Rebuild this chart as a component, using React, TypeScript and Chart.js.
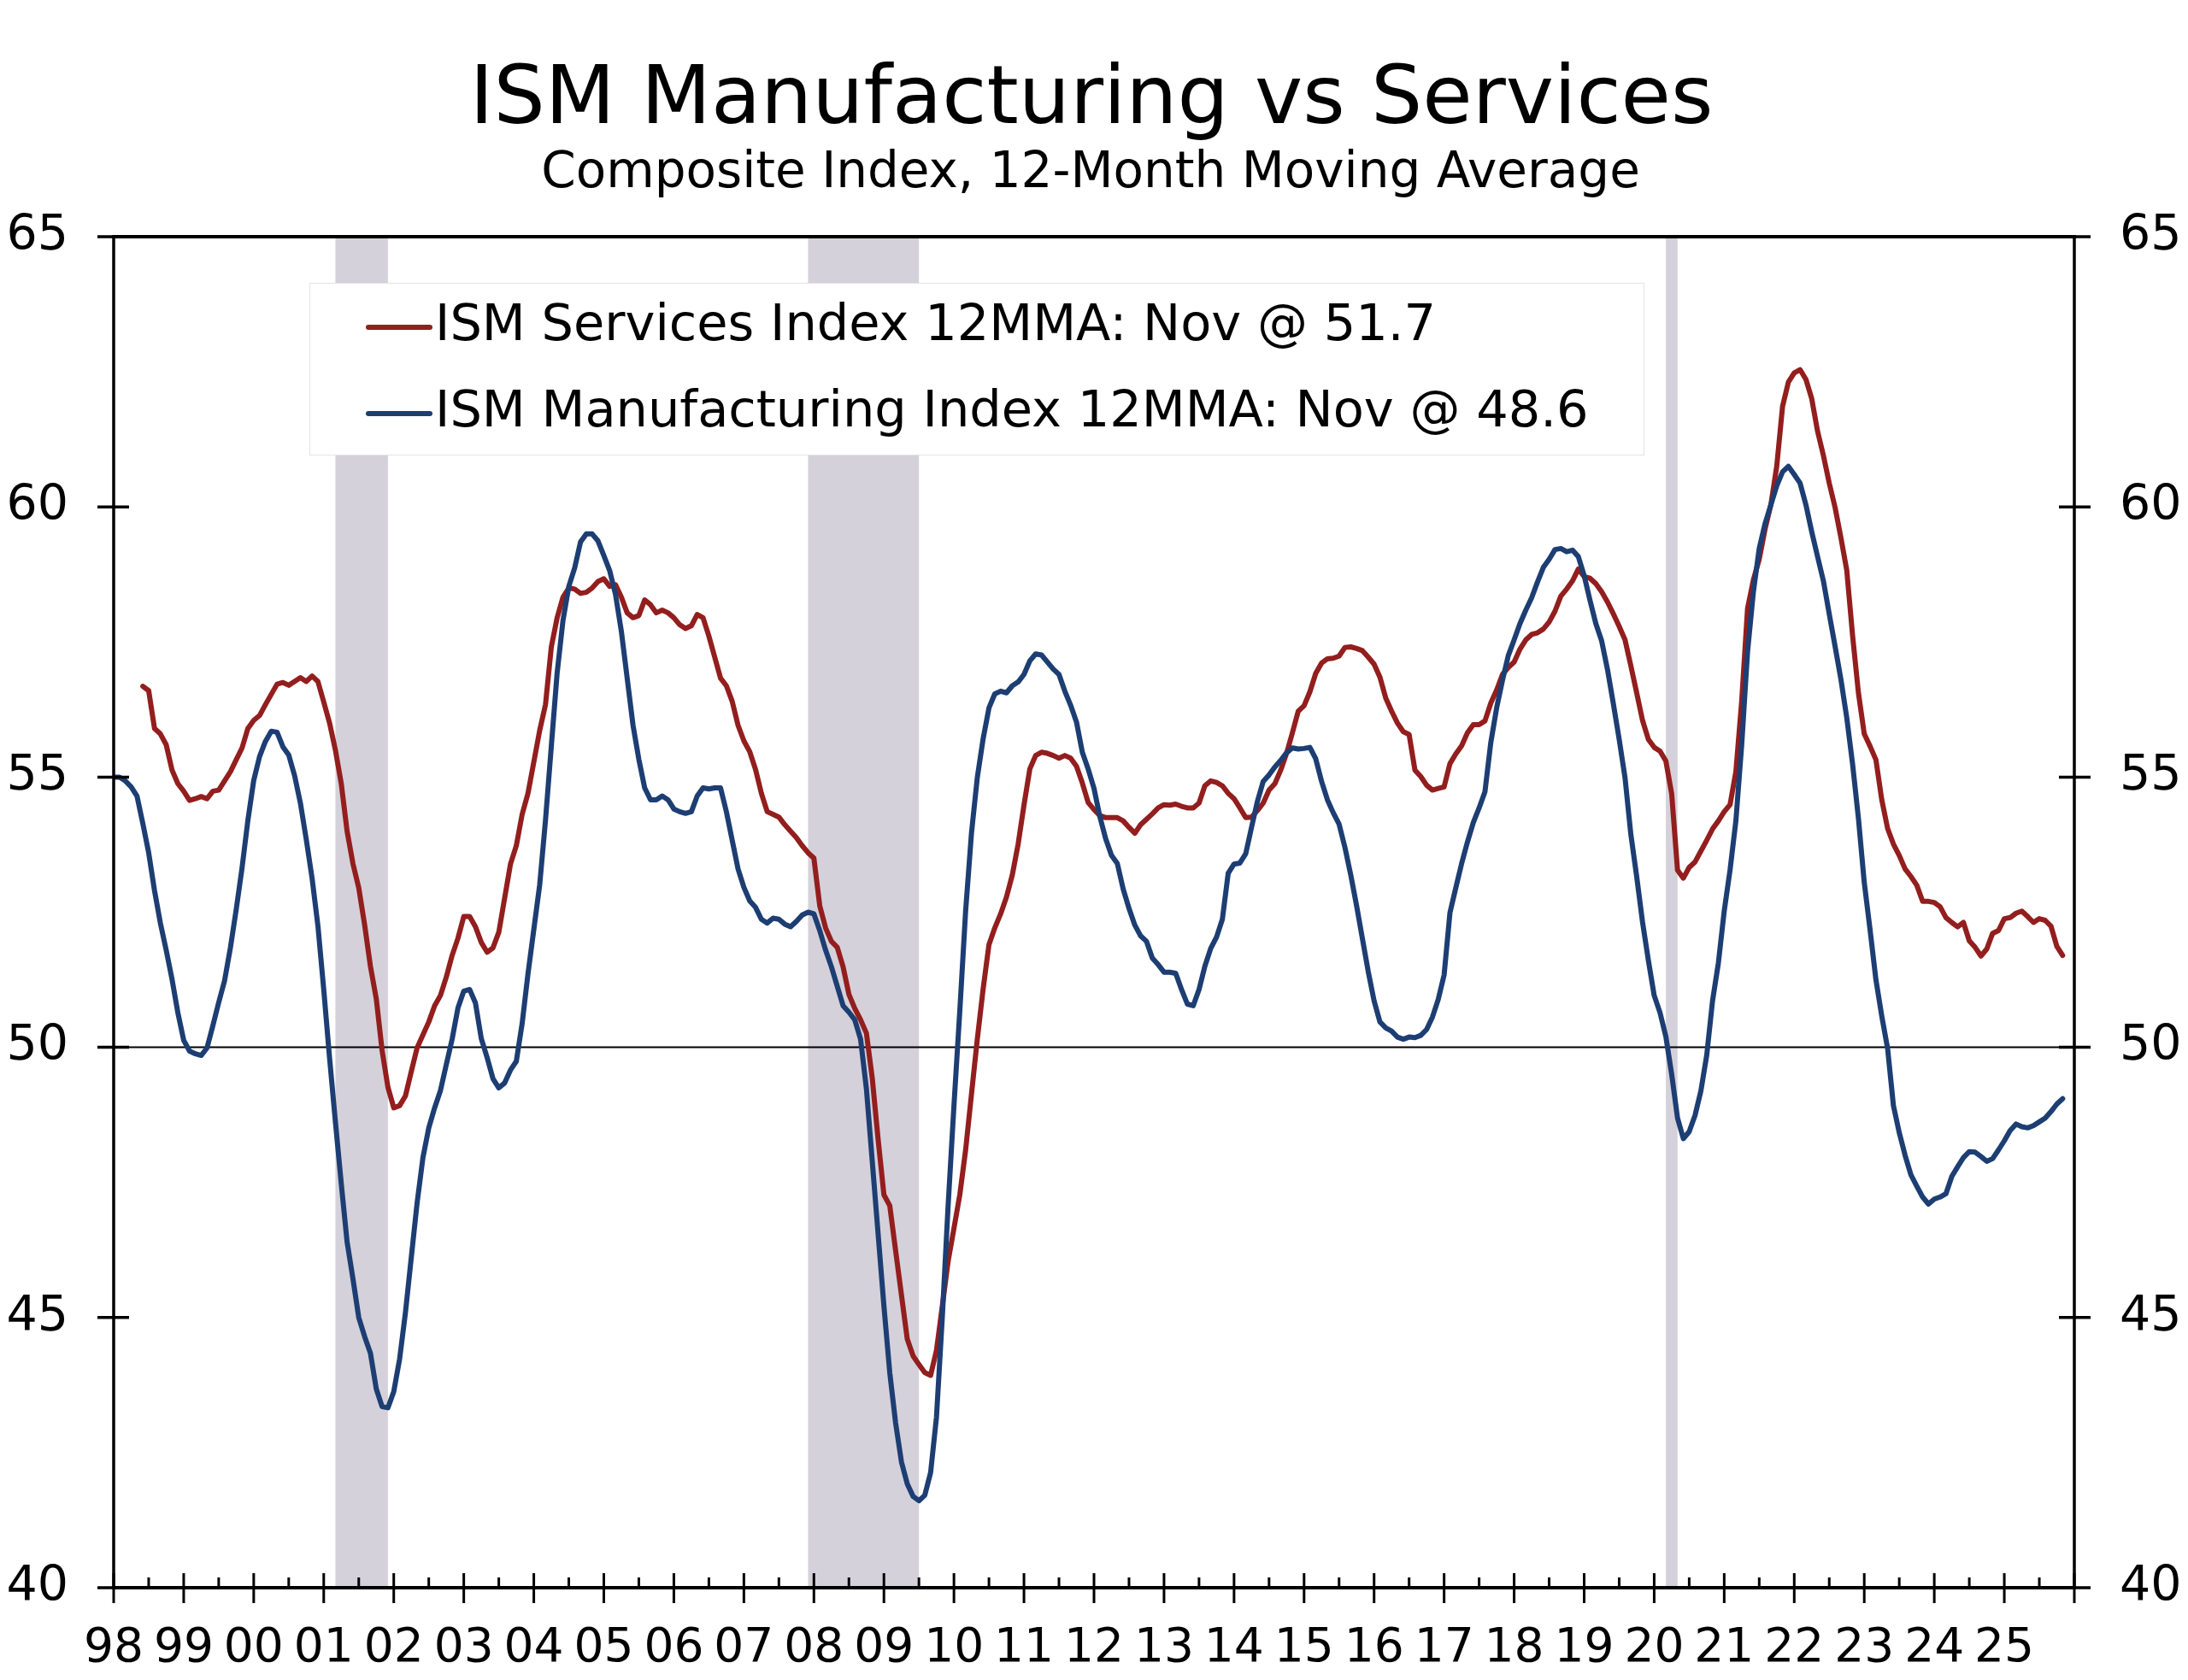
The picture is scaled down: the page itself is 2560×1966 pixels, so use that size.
import { useEffect, useRef } from 'react';
import { Chart, registerables } from 'chart.js';

Chart.register(...registerables);

// ---------------- data ----------------
const START_YEAR = 1998; // first month = Jan 1998, monthly observations
const yearLabels = ['98','99','00','01','02','03','04','05','06','07','08','09','10','11','12','13','14','15','16','17','18','19','20','21','22','23','24','25'];
const yTickValues = [40, 45, 50, 55, 60, 65];

// ISM Manufacturing composite, 12-month moving average (Jan 1998 - Nov 2025)
const manufacturing = [
  55.0, 55.0, 54.93, 54.82, 54.65, 54.14, 53.6, 52.9, 52.3, 51.8, 51.26, 50.64,
  50.13, 49.93, 49.88, 49.85, 49.99, 50.4, 50.83, 51.23, 51.84, 52.55, 53.32, 54.2,
  54.94, 55.38, 55.66, 55.85, 55.83, 55.56, 55.41, 55.03, 54.52, 53.85, 53.13, 52.25,
  51.07, 49.8, 48.62, 47.48, 46.4, 45.72, 45.0, 44.65, 44.34, 43.68, 43.35, 43.33,
  43.63, 44.23, 45.09, 46.11, 47.12, 47.96, 48.51, 48.88, 49.2, 49.68, 50.15, 50.73,
  51.04, 51.07, 50.82, 50.16, 49.81, 49.42, 49.25, 49.34, 49.58, 49.74, 50.44, 51.36,
  52.18, 53.0, 54.2, 55.57, 56.93, 57.9, 58.53, 58.87, 59.35, 59.5, 59.5, 59.37,
  59.1, 58.82, 58.38, 57.7, 56.83, 55.96, 55.33, 54.8, 54.58, 54.58, 54.65, 54.58,
  54.41, 54.36, 54.33, 54.36, 54.65, 54.8, 54.78, 54.8, 54.8, 54.36, 53.83, 53.3,
  52.96, 52.71, 52.59, 52.37, 52.3, 52.39, 52.37, 52.28, 52.23, 52.33, 52.45, 52.5,
  52.47, 52.16, 51.8, 51.49, 51.13, 50.77, 50.65, 50.51, 50.15, 49.23, 47.89, 46.55,
  45.21, 43.98, 43.05, 42.33, 41.92, 41.69, 41.61, 41.71, 42.13, 43.15, 45.0, 47.07,
  48.92, 50.67, 52.52, 53.96, 54.99, 55.71, 56.28, 56.54, 56.59, 56.56, 56.69, 56.76,
  56.9, 57.15, 57.28, 57.26, 57.13, 57.0, 56.9, 56.59, 56.33, 56.02, 55.46, 55.15,
  54.79, 54.27, 53.86, 53.55, 53.4, 52.93, 52.57, 52.26, 52.06, 51.96, 51.65, 51.53,
  51.39, 51.39, 51.37, 51.07, 50.8, 50.77, 51.07, 51.5, 51.83, 52.04, 52.37, 53.22,
  53.39, 53.41, 53.58, 54.07, 54.55, 54.92, 55.04, 55.19, 55.31, 55.45, 55.54, 55.52,
  55.53, 55.55, 55.34, 54.92, 54.58, 54.34, 54.13, 53.7, 53.19, 52.62, 52.01, 51.4,
  50.86, 50.47, 50.36, 50.3, 50.19, 50.15, 50.19, 50.18, 50.22, 50.33, 50.56, 50.89,
  51.34, 52.49, 52.95, 53.4, 53.8, 54.16, 54.43, 54.73, 55.64, 56.28, 56.79, 57.25,
  57.54, 57.84, 58.09, 58.32, 58.61, 58.88, 59.03, 59.21, 59.23, 59.17, 59.2, 59.08,
  58.73, 58.27, 57.84, 57.52, 56.99, 56.36, 55.7, 54.99, 53.94, 53.16, 52.32, 51.61,
  50.96, 50.64, 50.2, 49.5, 48.69, 48.31, 48.44, 48.74, 49.19, 49.85, 50.86, 51.56,
  52.52, 53.28, 54.19, 55.6, 57.32, 58.43, 59.23, 59.69, 60.04, 60.39, 60.65, 60.75,
  60.6, 60.44, 60.04, 59.54, 59.08, 58.63, 58.02, 57.42, 56.81, 56.1, 55.24, 54.24,
  53.05, 52.17, 51.25, 50.58, 49.98, 48.92, 48.42, 48.0, 47.64, 47.43, 47.23, 47.1,
  47.19, 47.23, 47.29, 47.61, 47.79, 47.96, 48.07, 48.06, 47.98, 47.89, 47.94, 48.1,
  48.27, 48.46, 48.58, 48.53, 48.51, 48.55, 48.62, 48.69, 48.81, 48.95, 49.05,
];

// ISM Services composite, 12-month moving average (starts Jun 1998)
const services = [
  null, null, null, null, null, 56.68, 56.6, 55.9, 55.8, 55.6, 55.13, 54.88,
  54.74, 54.57, 54.6, 54.64, 54.6, 54.74, 54.76, 54.93, 55.1, 55.32, 55.54, 55.9,
  56.05, 56.14, 56.34, 56.53, 56.72, 56.75, 56.7, 56.77, 56.84, 56.77, 56.87, 56.77,
  56.39, 56.0, 55.5, 54.88, 54.0, 53.4, 52.95, 52.27, 51.5, 50.9, 49.94, 49.26,
  48.88, 48.92, 49.1, 49.55, 49.99, 50.23, 50.47, 50.77, 50.96, 51.3, 51.7, 52.02,
  52.42, 52.42, 52.23, 51.94, 51.76, 51.84, 52.13, 52.76, 53.39, 53.73, 54.31, 54.7,
  55.28, 55.86, 56.34, 57.41, 57.95, 58.33, 58.5, 58.48, 58.4, 58.42, 58.5, 58.62,
  58.67, 58.53, 58.56, 58.33, 58.04, 57.95, 57.99, 58.28, 58.19, 58.04, 58.09, 58.04,
  57.95, 57.82, 57.75, 57.8, 58.01, 57.95, 57.61, 57.22, 56.83, 56.69, 56.4, 55.96,
  55.67, 55.47, 55.14, 54.7, 54.36, 54.31, 54.26, 54.12, 54.0, 53.88, 53.73, 53.6,
  53.5, 52.62, 52.21, 51.96, 51.85, 51.49, 50.98, 50.72, 50.51, 50.26, 49.43, 48.3,
  47.27, 47.07, 46.24, 45.42, 44.6, 44.29, 44.13, 43.98, 43.93, 44.39, 45.21, 46.04,
  46.65, 47.27, 48.1, 49.13, 50.15, 51.08, 51.9, 52.21, 52.47, 52.78, 53.19, 53.76,
  54.48, 55.15, 55.4, 55.46, 55.44, 55.4, 55.35, 55.4, 55.35, 55.2, 54.89, 54.53,
  54.4, 54.29, 54.25, 54.25, 54.25, 54.19, 54.07, 53.96, 54.12, 54.22, 54.32, 54.43,
  54.49, 54.48, 54.5, 54.46, 54.43, 54.43, 54.52, 54.84, 54.93, 54.9, 54.84, 54.7,
  54.6, 54.43, 54.25, 54.26, 54.38, 54.52, 54.76, 54.88, 55.13, 55.44, 55.82, 56.22,
  56.32, 56.58, 56.92, 57.11, 57.19, 57.2, 57.24, 57.4, 57.41, 57.38, 57.34, 57.22,
  57.09, 56.85, 56.46, 56.22, 56.0, 55.84, 55.79, 55.13, 55.01, 54.85, 54.76, 54.79,
  54.82, 55.25, 55.43, 55.58, 55.82, 55.97, 55.97, 56.04, 56.37, 56.61, 56.9, 57.03,
  57.13, 57.37, 57.54, 57.64, 57.67, 57.74, 57.87, 58.07, 58.35, 58.48, 58.63, 58.85,
  58.71, 58.68, 58.58, 58.43, 58.24, 58.02, 57.79, 57.54, 57.06, 56.56, 56.05, 55.7,
  55.55, 55.48, 55.3, 54.69, 53.28, 53.13, 53.33, 53.43, 53.63, 53.83, 54.04, 54.19,
  54.36, 54.49, 55.1, 56.41, 58.12, 58.65, 59.03, 59.59, 60.04, 60.75, 61.86, 62.31,
  62.48, 62.54, 62.36, 62.0, 61.4, 60.95, 60.44, 59.99, 59.43, 58.83, 57.62, 56.56,
  55.8, 55.57, 55.32, 54.58, 54.05, 53.76, 53.55, 53.3, 53.16, 53.0, 52.7, 52.7,
  52.68, 52.6, 52.4, 52.31, 52.23, 52.31, 51.97, 51.85, 51.69, 51.82, 52.11, 52.16,
  52.38, 52.4, 52.48, 52.52, 52.42, 52.31, 52.38, 52.35, 52.24, 51.87, 51.7,
];

// NBER recessions (first month, last month)
const recessions = [
  ['2001-03', '2001-11'],
  ['2007-12', '2009-06'],
  ['2020-03', '2020-04'],
];

const legendLabels = [
  'ISM Services Index 12MMA: Nov @ 51.7',
  'ISM Manufacturing Index 12MMA: Nov @ 48.6',
];
const titleText = 'ISM Manufacturing vs Services';
const subtitleText = 'Composite Index, 12-Month Moving Average';

// ---------------- styling ----------------
const FONT = "'DejaVu Sans', Verdana, sans-serif";
const RED = '#931e1e';
const BLUE = '#1d3e73';
const SHADE = '#d5d1da';
const W = 2560;
const H = 1966;

const monthIndex = (s: string) => {
  const [yy, mm] = s.split('-').map(Number);
  return (yy - START_YEAR) * 12 + (mm - 1);
};

export default function App() {
  const ref = useRef<HTMLCanvasElement>(null);

  useEffect(() => {
    const canvas = ref.current;
    if (!canvas) return;

    const toPoints = (arr: (number | null)[]) => arr.map((v, i) => ({ x: i, y: v }));
    const nMonths = yearLabels.length * 12;

    const deco = {
      id: 'deco',
      beforeDatasetsDraw(chart: any) {
        const { ctx, chartArea: a, scales } = chart;
        const x = scales.x;
        const y = scales.y;
        ctx.save();
        ctx.fillStyle = SHADE;
        recessions.forEach(([s, e]) => {
          const x0 = x.getPixelForValue(monthIndex(s));
          const x1 = x.getPixelForValue(monthIndex(e) + 1);
          ctx.fillRect(x0, a.top, x1 - x0, a.bottom - a.top);
        });
        const y50 = y.getPixelForValue(50);
        ctx.strokeStyle = '#000';
        ctx.lineWidth = 2;
        ctx.beginPath();
        ctx.moveTo(a.left, y50);
        ctx.lineTo(a.right, y50);
        ctx.stroke();
        ctx.restore();
      },
      afterDatasetsDraw(chart: any) {
        const { ctx, chartArea: a, scales } = chart;
        const x = scales.x;
        const y = scales.y;
        ctx.save();

        // legend box
        const lx0 = 362, ly0 = 331, lx1 = 1924, ly1 = 533;
        ctx.fillStyle = '#ffffff';
        ctx.fillRect(lx0, ly0, lx1 - lx0, ly1 - ly0);
        ctx.strokeStyle = '#e4e4e4';
        ctx.lineWidth = 1;
        ctx.strokeRect(lx0 + 0.5, ly0 + 0.5, lx1 - lx0 - 1, ly1 - ly0 - 1);
        const rows = [
          { color: RED, yPos: 383, label: legendLabels[0] },
          { color: BLUE, yPos: 484, label: legendLabels[1] },
        ];
        rows.forEach((r) => {
          ctx.strokeStyle = r.color;
          ctx.lineWidth = 6;
          ctx.lineCap = 'round';
          ctx.beginPath();
          ctx.moveTo(431, r.yPos);
          ctx.lineTo(503, r.yPos);
          ctx.stroke();
          ctx.fillStyle = '#000';
          ctx.font = `59px ${FONT}`;
          ctx.textAlign = 'left';
          ctx.textBaseline = 'middle';
          ctx.fillText(r.label, 509, r.yPos);
        });
        ctx.lineCap = 'butt';

        // frame
        ctx.strokeStyle = '#000';
        ctx.lineWidth = 4;
        ctx.beginPath();
        ctx.moveTo(a.left - 2, a.top);
        ctx.lineTo(a.right + 2, a.top);
        ctx.moveTo(a.left - 2, a.bottom);
        ctx.lineTo(a.right + 2, a.bottom);
        ctx.stroke();
        ctx.lineWidth = 3.5;
        ctx.beginPath();
        ctx.moveTo(a.left, a.top);
        ctx.lineTo(a.left, a.bottom);
        ctx.moveTo(a.right, a.top);
        ctx.lineTo(a.right, a.bottom);
        ctx.stroke();

        // y ticks (crossing both axes)
        ctx.lineWidth = 3.5;
        ctx.beginPath();
        yTickValues.forEach((v) => {
          const py = y.getPixelForValue(v);
          ctx.moveTo(a.left - 19, py);
          ctx.lineTo(a.left + 18, py);
          ctx.moveTo(a.right - 18, py);
          ctx.lineTo(a.right + 19, py);
        });
        ctx.stroke();

        // x ticks: major at each year start, minor at mid-year
        ctx.lineWidth = 3;
        ctx.beginPath();
        for (let k = 0; k <= yearLabels.length; k++) {
          const px = x.getPixelForValue(k * 12);
          ctx.moveTo(px, a.bottom - 17);
          ctx.lineTo(px, a.bottom + 18);
          if (k < yearLabels.length) {
            const pm = x.getPixelForValue(k * 12 + 6);
            ctx.moveTo(pm, a.bottom - 12);
            ctx.lineTo(pm, a.bottom);
          }
        }
        ctx.stroke();

        // titles
        ctx.fillStyle = '#000';
        ctx.textAlign = 'center';
        ctx.textBaseline = 'alphabetic';
        ctx.font = `95px ${FONT}`;
        ctx.fillText(titleText, 1277, 144);
        ctx.font = `58px ${FONT}`;
        ctx.fillText(subtitleText, 1276, 219);
        ctx.restore();
      },
    };

    const yScale = (position: 'left' | 'right') => ({
      type: 'linear' as const,
      position,
      min: 40,
      max: 65,
      afterBuildTicks: (s: any) => {
        s.ticks = yTickValues.map((v) => ({ value: v }));
      },
      afterFit: (s: any) => {
        s.width = 133;
      },
      grid: { display: false, drawTicks: false },
      border: { display: false },
      ticks: {
        padding: 53,
        color: '#000',
        font: { family: FONT, size: 57 },
        callback: (v: any) => String(v),
      },
    });

    const chart = new Chart(canvas, {
      type: 'line',
      data: {
        datasets: [
          {
            label: legendLabels[1],
            data: toPoints(manufacturing),
            borderColor: BLUE,
            borderWidth: 6,
            pointRadius: 0,
            tension: 0,
            fill: false,
            order: 0,
            yAxisID: 'y',
            borderJoinStyle: 'round',
            borderCapStyle: 'round',
          },
          {
            label: legendLabels[0],
            data: toPoints(services),
            borderColor: RED,
            borderWidth: 6,
            pointRadius: 0,
            tension: 0,
            fill: false,
            order: 1,
            yAxisID: 'y',
            spanGaps: false,
            borderJoinStyle: 'round',
            borderCapStyle: 'round',
          },
        ],
      },
      options: {
        animation: false,
        responsive: false,
        devicePixelRatio: 1,
        layout: { padding: { top: 277, left: 0, right: 0, bottom: 0 } },
        plugins: {
          legend: { display: false },
          tooltip: { enabled: false },
          title: { display: false },
        },
        scales: {
          x: {
            type: 'linear',
            position: 'bottom',
            min: 0,
            max: nMonths,
            afterBuildTicks: (s: any) => {
              s.ticks = yearLabels.map((_, i) => ({ value: i * 12 }));
            },
            afterFit: (s: any) => {
              s.height = 108;
            },
            grid: { display: false, drawTicks: false },
            border: { display: false },
            ticks: {
              autoSkip: false,
              maxRotation: 0,
              minRotation: 0,
              padding: 39,
              color: '#000',
              font: { family: FONT, size: 55, lineHeight: 1.2 },
              callback: (_v: any, i: number) => yearLabels[i] ?? '',
            },
          },
          y: yScale('left'),
          y2: yScale('right'),
        },
      },
      plugins: [deco],
    } as any);

    return () => chart.destroy();
  }, []);

  return (
    <div style={{ position: 'absolute', left: 0, top: 0, width: W, height: H, background: '#fff' }}>
      <canvas ref={ref} width={W} height={H} style={{ display: 'block', width: W, height: H }} />
    </div>
  );
}
